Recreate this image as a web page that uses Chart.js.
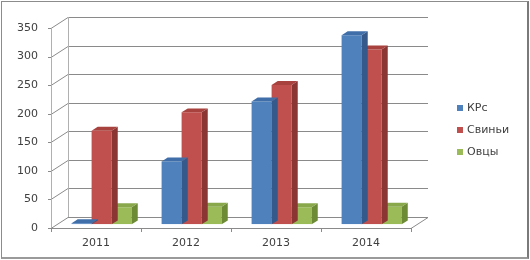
<!DOCTYPE html>
<html>
<head>
<meta charset="utf-8">
<script src="https://cdn.jsdelivr.net/npm/chart.js@4.4.1/dist/chart.umd.min.js"></script>
<style>
  html, body { margin: 0; padding: 0; background: #fff; }
  #wrap { position: relative; width: 530px; height: 260px; }
  #frame {
    position: absolute; left: 1px; top: 1px; width: 525px; height: 255px;
    border: 1px solid #8c8c8c; border-right: 2px solid #7a7a7a; border-bottom: 2px solid #9a9a9a;
    pointer-events: none;
  }
</style>
</head>
<body>
<div id="wrap">
  <canvas id="chart" width="530" height="260"></canvas>
  <div id="frame"></div>
</div>
<script>
const years = ["2011", "2012", "2013", "2014"];
const cattle = [2, 110, 215, 331];
const pigs = [164, 196, 244, 306];
const sheep = [30, 31, 30, 31];
const yTicks = [0, 50, 100, 150, 200, 250, 300, 350];

const seriesNames = ["КРс", "Свиньи", "Овцы"];
const fronts = ["#4f81bd", "#c0504d", "#9bbb59"];
const sides = ["#34598a", "#8c3634", "#6d8a35"];
const tops = ["#3f6ea8", "#a8423f", "#89a84c"];

// depth of the floor / back wall, and where the bars sit inside it
const DX = 17, DY = -11;
const BAR_POS = 0.33, BAR_DEPTH = 0.36;

const font = "DejaVu Sans";

function poly(ctx, pts, fill) {
  ctx.beginPath();
  ctx.moveTo(pts[0][0], pts[0][1]);
  for (let i = 1; i < pts.length; i++) ctx.lineTo(pts[i][0], pts[i][1]);
  ctx.closePath();
  ctx.fillStyle = fill;
  ctx.fill();
}

const walls = {
  id: "walls",
  beforeDatasetsDraw(chart) {
    const ctx = chart.ctx;
    const a = chart.chartArea;
    const y = chart.scales.y;
    ctx.save();
    ctx.strokeStyle = "#8a8a8a";
    ctx.lineWidth = 1;
    // back wall gridlines and left wall slants
    yTicks.forEach(function (v) {
      const py = Math.round(y.getPixelForValue(v)) + 0.5;
      ctx.beginPath();
      ctx.moveTo(a.left - 3, py);
      ctx.lineTo(a.left, py);
      ctx.lineTo(a.left + DX, py + DY);
      ctx.lineTo(a.right + DX, py + DY);
      ctx.stroke();
    });
    // floor right edge
    ctx.beginPath();
    ctx.moveTo(a.right, a.bottom + 0.5);
    ctx.lineTo(a.right + DX, a.bottom + 0.5 + DY);
    ctx.stroke();
    // left wall verticals
    ctx.strokeStyle = "#b0b0b0";
    ctx.beginPath();
    ctx.moveTo(a.left + 0.5, a.top);
    ctx.lineTo(a.left + 0.5, a.bottom);
    ctx.moveTo(a.left + DX + 0.5, a.top + DY);
    ctx.lineTo(a.left + DX + 0.5, a.bottom + DY);
    ctx.stroke();
    // front axis with category ticks
    ctx.strokeStyle = "#8a8a8a";
    ctx.beginPath();
    ctx.moveTo(a.left, a.bottom + 0.5);
    ctx.lineTo(a.right, a.bottom + 0.5);
    const step = (a.right - a.left) / years.length;
    for (let i = 0; i <= years.length; i++) {
      const px = Math.round(a.left + i * step) + 0.5;
      ctx.moveTo(px, a.bottom);
      ctx.lineTo(px, a.bottom + 4);
    }
    ctx.stroke();
    ctx.restore();

    ctx.save();
    ctx.translate(DX * BAR_POS, DY * BAR_POS);
  },
  afterDatasetDraw(chart, args) {
    const ctx = chart.ctx;
    const i = args.index;
    const dx = DX * BAR_DEPTH, dy = DY * BAR_DEPTH;
    args.meta.data.forEach(function (bar) {
      const l = bar.x - bar.width / 2, r = bar.x + bar.width / 2;
      const t = bar.y, b = bar.base;
      poly(ctx, [[r, t], [r + dx, t + dy], [r + dx, b + dy], [r, b]], sides[i]);
      poly(ctx, [[l, t], [l + dx, t + dy], [r + dx, t + dy], [r, t]], tops[i]);
    });
  },
  afterDatasetsDraw(chart) {
    chart.ctx.restore();
  }
};

const sideLegend = {
  id: "sideLegend",
  afterDraw(chart) {
    const ctx = chart.ctx;
    ctx.save();
    ctx.font = "11px '" + font + "'";
    ctx.textBaseline = "middle";
    chart.data.datasets.forEach(function (ds, i) {
      const cy = 108 + i * 22;
      ctx.fillStyle = ds.backgroundColor;
      ctx.fillRect(457, cy - 3, 6, 6);
      ctx.fillStyle = "#404040";
      ctx.fillText(ds.label, 467, cy);
    });
    ctx.restore();
  }
};

new Chart(document.getElementById("chart"), {
  type: "bar",
  data: {
    labels: years,
    datasets: [
      { label: seriesNames[0], data: cattle, backgroundColor: fronts[0] },
      { label: seriesNames[1], data: pigs, backgroundColor: fronts[1] },
      { label: seriesNames[2], data: sheep, backgroundColor: fronts[2] }
    ]
  },
  options: {
    responsive: false,
    animation: false,
    layout: { padding: { top: 28, right: 119, left: 0, bottom: 0 } },
    datasets: { bar: { categoryPercentage: 0.667, barPercentage: 1 } },
    scales: {
      x: {
        grid: { display: false, drawTicks: false },
        border: { display: false },
        ticks: { padding: 9, color: "#404040", font: { family: font, size: 11 } },
        afterFit: function (s) { s.height = 32; }
      },
      y: {
        min: 0,
        max: 350,
        grid: { display: false, drawTicks: false },
        border: { display: false },
        ticks: {
          stepSize: 50,
          padding: 13,
          color: "#404040",
          font: { family: font, size: 11 }
        },
        afterFit: function (s) { s.width = 51; }
      }
    },
    plugins: {
      legend: { display: false },
      tooltip: { enabled: false }
    }
  },
  plugins: [walls, sideLegend]
});
</script>
</body>
</html>
